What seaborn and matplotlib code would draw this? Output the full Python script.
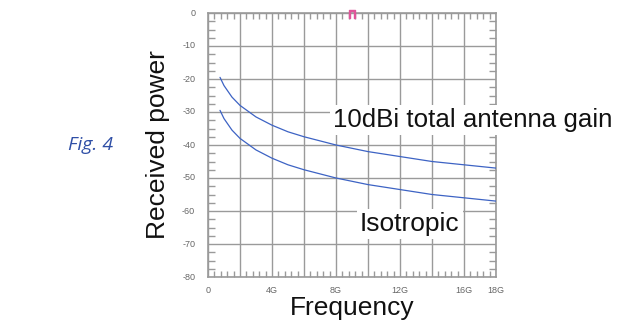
import matplotlib
matplotlib.use("Agg")
import matplotlib.pyplot as plt
from matplotlib.ticker import MultipleLocator
import seaborn as sns
import pandas as pd

# Received power vs. frequency for two antenna configurations
freq_ghz = [0.75, 1.0, 1.5, 2.0, 3.0, 4.0, 5.0, 6.0, 8.0, 10.0, 12.0, 14.0, 16.0, 18.0]
power_10dbi = [-19.5, -22.0, -25.5, -28.0, -31.5, -34.0, -36.0, -37.5, -40.0, -42.0, -43.5, -45.0, -46.0, -47.0]
power_iso = [-29.5, -32.0, -35.5, -38.0, -41.5, -44.0, -46.0, -47.5, -50.0, -52.0, -53.5, -55.0, -56.0, -57.0]

x_ticks = [0, 4, 8, 12, 16, 18]
x_tick_labels = ["0", "4G", "8G", "12G", "16G", "18G"]
y_ticks = [0, -10, -20, -30, -40, -50, -60, -70, -80]
y_tick_labels = ["0", "-10", "-20", "-30", "-40", "-50", "-60", "-70", "-80"]

df = pd.DataFrame({
    "freq": freq_ghz * 2,
    "power": power_10dbi + power_iso,
    "series": ["10dBi"] * len(freq_ghz) + ["Isotropic"] * len(freq_ghz),
})

sns.set_style("white")
plt.rcParams["font.family"] = ["Liberation Sans", "DejaVu Sans"]

fig = plt.figure(figsize=(6.18, 3.24), dpi=100)
ax = fig.add_axes([208 / 618, 47 / 324, 288 / 618, 264 / 324])

grid_c = "#9a9a9a"
line_c = "#3d63c4"

sns.lineplot(data=df, x="freq", y="power", hue="series",
             palette=[line_c, line_c], linewidth=0.9, legend=False, ax=ax,
             zorder=3)

ax.set_xlim(0, 18)
ax.set_ylim(-80, 0)

# major grid every 2G and every 10 dB
ax.xaxis.set_major_locator(MultipleLocator(2))
ax.yaxis.set_major_locator(MultipleLocator(10))
ax.grid(True, color=grid_c, linewidth=1.0)
ax.set_axisbelow(True)
ax.tick_params(which="major", length=0, labelbottom=False, labelleft=False)

# inward minor ticks on all four sides
ax.xaxis.set_minor_locator(MultipleLocator(0.4))
ax.yaxis.set_minor_locator(MultipleLocator(2.5))
ax.tick_params(which="minor", direction="in", color=grid_c, width=1.0,
               top=True, bottom=True, left=True, right=True)
ax.tick_params(axis="x", which="minor", length=4)
ax.tick_params(axis="y", which="minor", length=5)

for s in ax.spines.values():
    s.set_color(grid_c)
    s.set_linewidth(1.2)

# tick labels placed a little away from the frame
for xv, lab in zip(x_ticks, x_tick_labels):
    ax.text(xv, -82.6, lab, ha="center", va="top",
            fontsize=6.5, color="#666666", clip_on=False)
for yv, lab in zip(y_ticks, y_tick_labels):
    ax.text(-0.8, yv, lab, ha="right", va="center", fontsize=6.5,
            color="#666666", clip_on=False)

ax.set_xlabel("Frequency", fontsize=19, labelpad=10)
ax.set_ylabel("Received power", fontsize=19, labelpad=24)
ax.xaxis.label.set_color("#111111")
ax.yaxis.label.set_color("#111111")

# marker at the top edge
ax.plot([9.0], [-0.4], marker=r"$\Pi$", color="#e0559a", markersize=6,
        clip_on=False, zorder=4)

# curve annotations on white boxes
ax.text(7.8, -32.5, "10dBi total antenna gain", fontsize=18.6, ha="left",
        va="center", color="#111111", clip_on=False, zorder=5,
        bbox=dict(facecolor="white", edgecolor="none", pad=2))
ax.text(9.5, -64.0, "Isotropic", fontsize=19, ha="left", va="center",
        color="#111111", clip_on=False, zorder=5,
        bbox=dict(facecolor="white", edgecolor="none", pad=2))

fig.text(91 / 618, 1 - 145 / 324, "Fig. 4", fontsize=14, style="italic",
         color="#2f4fa6", ha="center", va="center",
         family=["Open Sans", "DejaVu Sans"])

fig.savefig("out.png", dpi=100)
